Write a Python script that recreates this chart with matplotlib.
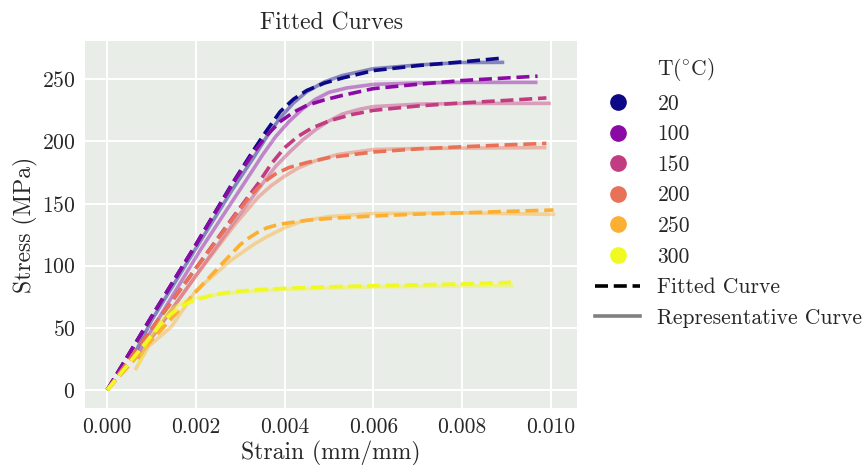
import numpy as np
import matplotlib
matplotlib.use("Agg")
import matplotlib.pyplot as plt
from matplotlib.lines import Line2D

# ----------------------------
# Data
# ----------------------------
temps = [20, 100, 150, 200, 250, 300]

# fitted curves (dashed)
fit_strain_20 = [0, 0.001, 0.002, 0.0028, 0.0033, 0.0036, 0.0039, 0.0042, 0.0045, 0.0049, 0.0053, 0.006, 0.007, 0.008, 0.0089]
fit_stress_20 = [0, 59, 117, 165, 193, 209, 224, 234, 241, 247, 251, 257, 261, 264, 267]

fit_strain_100 = [0, 0.001, 0.002, 0.0029, 0.0033, 0.0036, 0.0039, 0.0042, 0.0045, 0.0049, 0.0053, 0.006, 0.007, 0.008, 0.0097]
fit_stress_100 = [0, 59, 117, 170, 191, 205, 216, 223.5, 229, 233.5, 237, 242.5, 246, 249, 252.5]

fit_strain_150 = [0, 0.001, 0.002, 0.003, 0.0034, 0.0037, 0.004, 0.0043, 0.0046, 0.005, 0.0055, 0.006, 0.007, 0.008, 0.009, 0.0099]
fit_stress_150 = [0, 49, 98, 147, 166, 182, 195, 204, 210.5, 216.5, 221.5, 225, 228.5, 231, 233, 235]

fit_strain_200 = [0, 0.001, 0.002, 0.0029, 0.0032, 0.0035, 0.0038, 0.0041, 0.0045, 0.005, 0.006, 0.007, 0.008, 0.009, 0.0099]
fit_stress_200 = [0, 49, 98, 141, 155, 166.5, 174, 179, 183, 187, 191.5, 194, 195.7, 197.2, 198.4]

fit_strain_250 = [0, 0.001, 0.002, 0.0026, 0.003, 0.0032, 0.0034, 0.0036, 0.0038, 0.004, 0.0045, 0.005, 0.006, 0.007, 0.008, 0.009, 0.01006]
fit_stress_250 = [0, 40, 79, 102, 117, 122.5, 127, 130.5, 132.5, 134, 136.5, 138, 140, 141.5, 142.5, 143.7, 144.8]

fit_strain_300 = [0, 0.0005, 0.001, 0.0012, 0.0014, 0.0016, 0.0018, 0.002, 0.0024, 0.0028, 0.0034, 0.004, 0.005, 0.006, 0.007, 0.008, 0.0091]
fit_stress_300 = [0, 22, 44, 52.5, 60, 65.5, 69.5, 72.5, 76.5, 79, 80.8, 81.8, 83, 83.9, 84.6, 85.3, 86.6]

# representative curves (solid, faded)
rep_strain_20 = [0.0006, 0.001, 0.002, 0.0028, 0.0033, 0.0036, 0.0039, 0.0042, 0.0045, 0.0049, 0.0053, 0.006, 0.007, 0.008, 0.00895]
rep_stress_20 = [28, 56, 114, 160, 187, 204, 219, 231, 240, 248, 253, 258.5, 261.5, 263.5, 263.6]

rep_strain_100 = [0.0007, 0.001, 0.0021, 0.0031, 0.0035, 0.0038, 0.0041, 0.0044, 0.0047, 0.005, 0.0054, 0.006, 0.007, 0.008, 0.0097]
rep_stress_100 = [30, 48, 112.6, 167, 189, 204, 216, 226, 234, 239.5, 243, 245.9, 247, 247.5, 247.5]

rep_strain_150 = [0.0007, 0.001, 0.002, 0.0029, 0.0035, 0.0038, 0.0041, 0.0044, 0.0047, 0.005, 0.0053, 0.0057, 0.006, 0.007, 0.008, 0.01]
rep_stress_150 = [25, 42, 92, 137, 166, 180, 191, 201, 209.5, 216.5, 222, 226, 228, 230, 230.6, 230.6]

rep_strain_200 = [0.0007, 0.001, 0.002, 0.0029, 0.0034, 0.0037, 0.004, 0.0043, 0.0047, 0.0052, 0.006, 0.007, 0.008, 0.0099]
rep_stress_200 = [25, 42, 92, 134, 155, 164.5, 172, 178.5, 184.5, 189.5, 193.5, 194.3, 194.6, 195]

rep_strain_250 = [0.00063, 0.00093, 0.00145, 0.002, 0.0028, 0.0033, 0.0036, 0.004, 0.0044, 0.005, 0.006, 0.008, 0.0101]
rep_stress_250 = [16, 35, 51, 80, 104.6, 117, 123.3, 130.5, 136, 139.5, 142, 142.5, 141.3]

rep_strain_300 = [0.0007, 0.0009, 0.0012, 0.00145, 0.0017, 0.002, 0.0024, 0.003, 0.004, 0.006, 0.008, 0.00915]
rep_stress_300 = [20, 38, 55, 65, 70.5, 74, 76.4, 78.8, 81, 83, 83.7, 84]

fit_strain = [fit_strain_20, fit_strain_100, fit_strain_150, fit_strain_200, fit_strain_250, fit_strain_300]
fit_stress = [fit_stress_20, fit_stress_100, fit_stress_150, fit_stress_200, fit_stress_250, fit_stress_300]
rep_strain = [rep_strain_20, rep_strain_100, rep_strain_150, rep_strain_200, rep_strain_250, rep_strain_300]
rep_stress = [rep_stress_20, rep_stress_100, rep_stress_150, rep_stress_200, rep_stress_250, rep_stress_300]

# ----------------------------
# Style
# ----------------------------
plt.rcParams["font.family"] = "serif"
plt.rcParams["font.serif"] = ["cmr10"]
plt.rcParams["mathtext.fontset"] = "cm"
plt.rcParams["axes.formatter.use_mathtext"] = True
plt.rcParams["text.color"] = "0.15"
plt.rcParams["axes.labelcolor"] = "0.15"
plt.rcParams["xtick.color"] = "0.15"
plt.rcParams["ytick.color"] = "0.15"

# hue mapped on temperature like seaborn does for numeric hue
t = np.array(temps, dtype=float)
colors = plt.cm.plasma((t - t.min()) / (t.max() - t.min()))

fig = plt.figure(figsize=(8.66, 4.65), dpi=100)
ax = fig.add_axes([85 / 866, 1 - 408 / 465, (577 - 85) / 866, (408 - 41) / 465])
ax.set_facecolor("#e9ede7")
for s in ax.spines.values():
    s.set_visible(False)
ax.grid(True, color="white", lw=1.5)
ax.set_axisbelow(True)
ax.tick_params(length=0, labelsize=15.5, pad=7)

for i in range(len(temps)):
    ax.plot(rep_strain[i], rep_stress[i], color=colors[i], lw=2.6, alpha=0.45,
            solid_capstyle="butt", solid_joinstyle="round")
    ax.plot(fit_strain[i], fit_stress[i], color=colors[i], lw=2.6, ls=(0, (3.6, 1.6)))

ax.set_xlim(-0.0005, 0.01059)
ax.set_ylim(-14.5, 280.8)
ax.set_xticks([0, 0.002, 0.004, 0.006, 0.008, 0.010])
ax.set_xticklabels(["0.000", "0.002", "0.004", "0.006", "0.008", "0.010"])
ax.set_yticks([0, 50, 100, 150, 200, 250])

ax.set_xlabel("Strain (mm/mm)", fontsize=17, labelpad=3)
ax.set_ylabel("Stress (MPa)", fontsize=17, labelpad=2.5)
ax.set_title("Fitted Curves", fontsize=17, pad=8)

# legend: temperature entries + line styles
handles = [Line2D([], [], ls="none", marker="none")]
labels = [r"T($^{\circ}$C)"]
for i, tt in enumerate(temps):
    handles.append(Line2D([], [], ls="none", marker="o", markersize=11,
                          color=colors[i]))
    labels.append(str(tt))
handles.append(Line2D([], [], color="black", lw=2.6, ls=(0, (3.6, 1.6))))
labels.append("Fitted Curve")
handles.append(Line2D([], [], color="gray", lw=2.6))
labels.append("Representative Curve")

fig.legend(handles, labels, loc="upper left", bbox_to_anchor=(595 / 866, 1 - 56 / 465),
           frameon=False, fontsize=15.5, handlelength=2.1, handletextpad=0.8,
           labelspacing=0.515, borderpad=0, borderaxespad=0)

fig.savefig("out.png", dpi=100)
